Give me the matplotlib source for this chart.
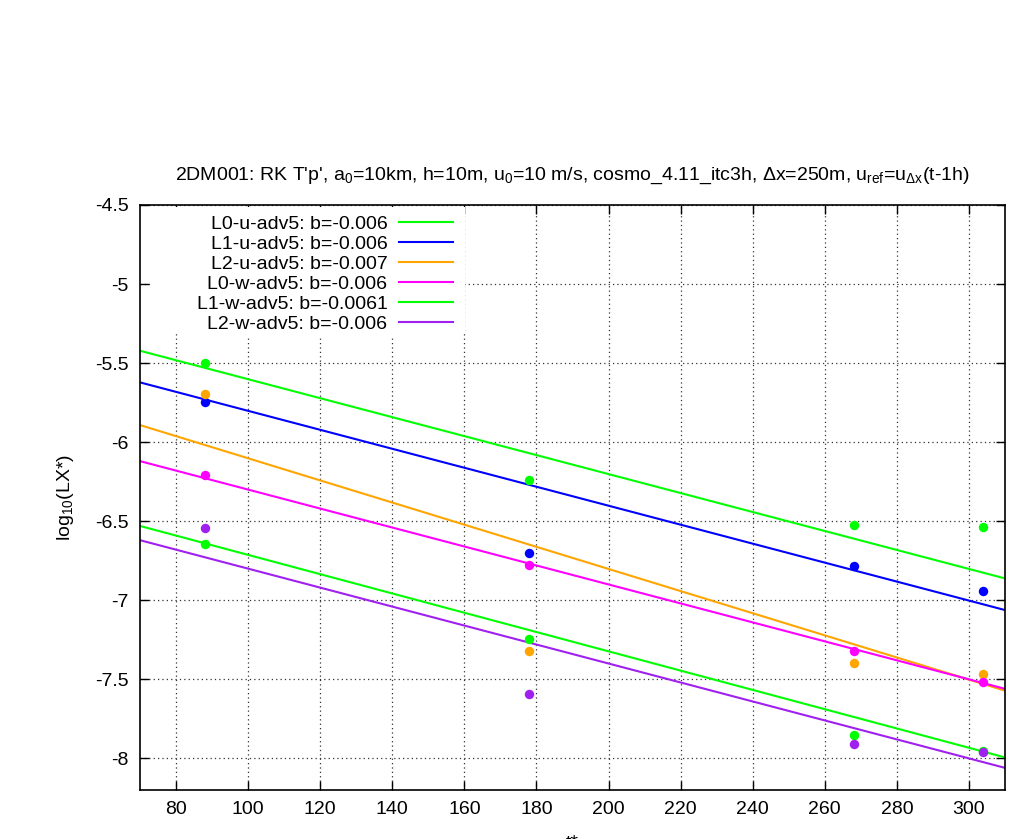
#!/usr/bin/env python
# -*- coding: utf-8 -*-

import numpy as np
import matplotlib
matplotlib.use('Agg')
import matplotlib.pyplot as plt
from matplotlib.patches import Rectangle
from matplotlib.ticker import FuncFormatter

plt.rcParams['font.family'] = ['Liberation Sans', 'DejaVu Sans']
plt.rcParams['mathtext.fontset'] = 'custom'
plt.rcParams['mathtext.rm'] = 'Liberation Sans'
plt.rcParams['mathtext.it'] = 'Liberation Sans'
plt.rcParams['mathtext.default'] = 'rm'

# time (t*) of the samples
t = [88, 178, 268, 304]

# log10(LX*) per run
L0u = [-5.500, -6.237, -6.523, -6.538]
L1u = [-5.745, -6.700, -6.783, -6.941]
L2u = [-5.695, -7.323, -7.395, -7.468]
L0w = [-6.210, -6.780, -7.321, -7.519]
L1w = [-6.645, -7.245, -7.852, -7.952]
L2w = [-6.545, -7.590, -7.907, -7.962]

# fitted lines y = a + b*t
fit_a = [-5.002, -5.202, -5.402, -5.700, -6.103, -6.200]
fit_b = [-0.0060, -0.0060, -0.0070, -0.0060, -0.0061, -0.0060]

labels = ['L0-u-adv5: b=-0.006', 'L1-u-adv5: b=-0.006', 'L2-u-adv5: b=-0.007',
          'L0-w-adv5: b=-0.006', 'L1-w-adv5: b=-0.0061', 'L2-w-adv5: b=-0.006']
colors = ['#00ff00', '#0000ff', '#ffa500', '#ff00ff', '#00ff00', '#a020f0']
series = [L0u, L1u, L2u, L0w, L1w, L2w]

xticks = np.arange(80, 301, 20)
yticks = np.arange(-8.0, -4.49, 0.5)

fig = plt.figure(figsize=(10.36, 8.39), dpi=100)
ax1 = fig.add_axes([0.1351, 0.0584, 0.8350, 0.6973])
ax1.set_xlim(70, 310)
ax1.set_ylim(-8.2, -4.5)

tt = np.array(ax1.get_xlim())
for y, a, b, c, lab in zip(series, fit_a, fit_b, colors, labels):
    ax1.plot(t, y, 'o', color=c, markersize=6.8, markeredgewidth=0, zorder=3)
    ax1.plot(tt, a + b*tt, color=c, lw=1.5, label=lab, zorder=2)

ax1.set_xticks(xticks)
ax1.set_yticks(yticks)
ax1.yaxis.set_major_formatter(FuncFormatter(lambda v, p: '%g' % v))
ax1.tick_params(direction='in', length=6.5, width=1, top=True, right=True,
                labelsize=14, pad=8)
ax1.grid(True, color='#333333', linestyle=(0, (1, 2.5)), lw=0.9)
for s in ax1.spines.values():
    s.set_linewidth(1.2)

ax1.set_title("2DM001: RK T'p', a$_0$=10km, h=10m, u$_0$=10 m/s, cosmo_4.11_itc3h, "
              "\u0394x=250m, u$_{ref}$=u$_{\u0394x}$(t-1h)", size=14, pad=18)
ax1.set_ylabel(r'log$_{10}$(LX*)', size=14, labelpad=14)
ax1.set_xlabel('t*', size=14, labelpad=12)

# blank key area (gnuplot key box hides the grid)
ax1.add_patch(Rectangle((0.012, 0.781), 0.364, 0.216, transform=ax1.transAxes,
                        facecolor='white', edgecolor='none', zorder=4))

leg = ax1.legend(loc='upper left', bbox_to_anchor=(0.062, 0.988), fontsize=14,
                 markerfirst=False, handlelength=2.75, handletextpad=0.6,
                 labelspacing=0.13, borderpad=0.15, borderaxespad=0.0,
                 frameon=True, fancybox=False, framealpha=1.0)
leg.get_frame().set_edgecolor('none')
leg.set_zorder(5)

fig.savefig('out.png', dpi=100)
